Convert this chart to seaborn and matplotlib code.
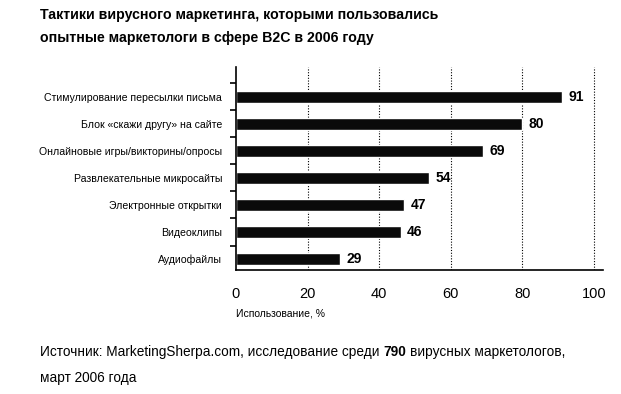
import numpy as np
import pandas as pd
import seaborn as sns
import matplotlib.pyplot as plt
from matplotlib.ticker import FixedLocator

# Survey values
tactics = [
    "Стимулирование пересылки письма",
    "Блок «скажи другу» на сайте",
    "Онлайновые игры/викторины/опросы",
    "Развлекательные микросайты",
    "Электронные открытки",
    "Видеоклипы",
    "Аудиофайлы",
]
usage = [91, 80, 69, 54, 47, 46, 29]
xticks = [0, 20, 40, 60, 80, 100]

title_lines = [
    "Тактики вирусного маркетинга, которыми пользовались",
    "опытные маркетологи в сфере B2C в 2006 году",
]
xlabel = "Использование, %"

df = pd.DataFrame({"tactic": tactics, "usage": usage})

sns.set_style("white")
plt.rcParams["font.family"] = ["Liberation Sans", "DejaVu Sans"]
plt.rcParams.update({"text.color": "black", "axes.labelcolor": "black",
                     "xtick.color": "black", "ytick.color": "black"})

fig = plt.figure(figsize=(6.21, 3.94), dpi=100)
ax = fig.add_axes([0.380, 0.315, 0.591, 0.515])

sns.barplot(data=df, x="usage", y="tactic", orient="h", color="#0a0a0a",
            saturation=1, width=0.46, ax=ax)

ax.set_xlim(0, 102.5)
ax.set_ylim(6.4, -1.1)

# dotted grid
for v in xticks[1:]:
    ax.axvline(v, color="black", lw=0.8, ls=(0, (1, 1.5)), zorder=0)

# value labels
for i, v in enumerate(usage):
    ax.text(v + 1.8, i, str(v), va="center", ha="left",
            fontsize=10, fontweight="bold")

ax.set_xticks(xticks)
ax.set_xticklabels([str(t) for t in xticks], fontsize=10.5)
ax.tick_params(axis="x", length=0, pad=12)
ax.set_yticks(range(len(tactics)))
ax.set_yticklabels(tactics, fontsize=7.6)
ax.tick_params(axis="y", which="major", left=False, length=0, pad=10)
ax.yaxis.set_minor_locator(FixedLocator(np.arange(-0.5, 6, 1.0)))
ax.tick_params(axis="y", which="minor", left=True, length=4, width=1.2,
               direction="out", color="black")

ax.set_ylabel("")
ax.set_xlabel(xlabel, fontsize=7.5, loc="left", labelpad=6)

for s in ["top", "right"]:
    ax.spines[s].set_visible(False)
for s in ["left", "bottom"]:
    ax.spines[s].set_color("black")
    ax.spines[s].set_linewidth(1.2)

fig.text(0.064, 0.962, title_lines[0], fontsize=10.2, fontweight="bold", va="center")
fig.text(0.064, 0.903, title_lines[1], fontsize=10.2, fontweight="bold", va="center")

# source note, with the sample size in bold
t1 = fig.text(0.064, 0.107, "Источник: MarketingSherpa.com, исследование среди",
              fontsize=9.8, va="center")
a2 = ax.annotate("790", xy=(1, 0.5), xycoords=t1, xytext=(3, 0),
                 textcoords="offset points", va="center", ha="left",
                 fontsize=9.8, fontweight="bold", annotation_clip=False)
ax.annotate("вирусных маркетологов,", xy=(1, 0.5), xycoords=a2, xytext=(3, 0),
            textcoords="offset points", va="center", ha="left", fontsize=9.8,
            annotation_clip=False)
fig.text(0.064, 0.041, "март 2006 года", fontsize=9.8, va="center")

fig.savefig("out.png", dpi=100, facecolor="white")
